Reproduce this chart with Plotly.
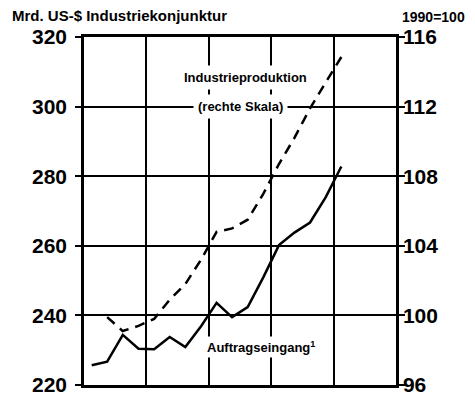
import pandas as pd
import plotly.graph_objects as go

# quarterly data, 1991 Q1 .. 1995 Q1
quarters = ["1991Q1", "1991Q2", "1991Q3", "1991Q4",
            "1992Q1", "1992Q2", "1992Q3", "1992Q4",
            "1993Q1", "1993Q2", "1993Q3", "1993Q4",
            "1994Q1", "1994Q2", "1994Q3", "1994Q4",
            "1995Q1"]
auftragseingang = [225.7, 226.7, 234.4, 230.4, 230.3, 233.8, 230.9, 236.9,
                   243.6, 239.5, 242.4, 251.0, 260.2, 263.8, 266.7, 274.0, 282.8]
industrieproduktion = [None, 99.9, 99.1, 99.4, 99.8, 100.9, 101.8, 103.2,
                       104.8, 105.0, 105.5, 107.0, 108.7, 110.2, 111.9, 113.4, 114.85]

left_ticks = [220, 240, 260, 280, 300, 320]
right_ticks = [96, 100, 104, 108, 112, 116]
x_range = ["1991-01-01", "1996-01-01"]

per = pd.PeriodIndex(quarters, freq="Q")
x = per.start_time + (per.end_time - per.start_time) / 2

FONT = "Liberation Sans"

fig = go.Figure()
fig.add_trace(go.Scatter(x=x, y=auftragseingang, mode="lines",
                         line=dict(color="black", width=2.5), yaxis="y"))
fig.add_trace(go.Scatter(x=x, y=industrieproduktion, mode="lines",
                         line=dict(color="black", width=2.5, dash="10px,7px"), yaxis="y2"))

# page body has an 8px margin, so the figure is drawn 8px in from the corner
fig.update_layout(
    width=467, height=392,
    margin=dict(l=76, r=79, t=29, b=15, autoexpand=False),
    plot_bgcolor="rgba(0,0,0,0)", paper_bgcolor="white",
    showlegend=False,
    font=dict(family=FONT, color="black"),
    xaxis=dict(range=x_range, showticklabels=False,
               tick0=x_range[0], dtick="M12", automargin=False,
               showgrid=True, gridcolor="black", gridwidth=2,
               showline=True, linecolor="black", linewidth=2.5, mirror=True,
               ticks="", zeroline=False),
    yaxis=dict(range=[220, 320], tickmode="array", tickvals=left_ticks, automargin=False,
               showgrid=True, gridcolor="black", gridwidth=2,
               showline=True, linecolor="black", linewidth=2.5,
               ticks="outside", ticklen=6, tickwidth=2, tickcolor="black",
               ticklabelstandoff=4,
               tickfont=dict(family=FONT, size=21, weight="bold"),
               zeroline=False),
    yaxis2=dict(range=[96, 116], tickmode="array", tickvals=right_ticks, automargin=False,
                overlaying="y", side="right",
                showgrid=False,
                showline=True, linecolor="black", linewidth=2.5,
                ticks="outside", ticklen=6, tickwidth=2, tickcolor="black",
                ticklabelstandoff=-6,
                tickfont=dict(family=FONT, size=21, weight="bold"),
                zeroline=False),
)

fig.add_annotation(text="Mrd. US-$ Industriekonjunktur", xref="paper", yref="paper",
                   x=-0.237, y=1.063, xanchor="left", yanchor="middle", showarrow=False,
                   font=dict(family=FONT, size=15, weight="bold"))
fig.add_annotation(text="1990=100", xref="paper", yref="paper",
                   x=1.119, y=1.057, xanchor="center", yanchor="middle", showarrow=False,
                   font=dict(family=FONT, size=14, weight="bold"))
fig.add_annotation(text="Industrieproduktion", xref="paper", yref="y",
                   x=0.519, y=308.5, showarrow=False, bgcolor="white", borderpad=4,
                   font=dict(family=FONT, size=13, weight="bold"))
fig.add_annotation(text="(rechte Skala)", xref="paper", yref="y",
                   x=0.502, y=300, showarrow=False, bgcolor="white", borderpad=4,
                   font=dict(family=FONT, size=13, weight="bold"))
fig.add_annotation(text="Auftragseingang<sup>1</sup>", xref="paper", yref="y",
                   x=0.567, y=231, showarrow=False, bgcolor="white", borderpad=2,
                   font=dict(family=FONT, size=13, weight="bold"))

fig.write_html("out.html")
